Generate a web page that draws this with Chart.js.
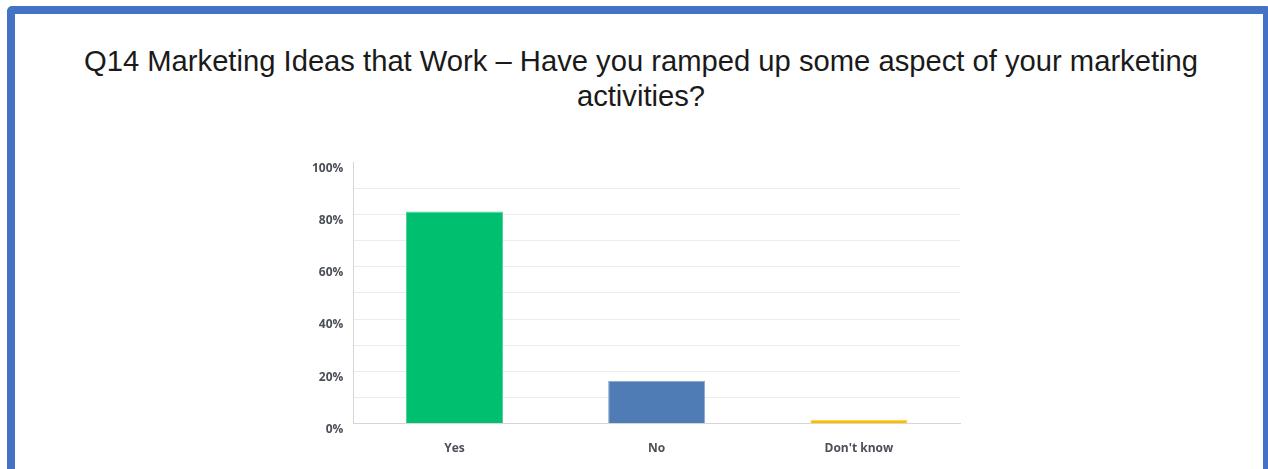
<!DOCTYPE html>
<html>
<head>
<meta charset="utf-8">
<script src="https://cdn.jsdelivr.net/npm/chart.js@4/dist/chart.umd.min.js"></script>
<style>
  html, body { margin: 0; padding: 0; background: #fff; width: 1268px; height: 469px; overflow: hidden; }
  .frame {
    position: absolute; left: 7px; top: 6px; width: 1248px; height: 520px;
    border: 8px solid #4472c4; border-radius: 5px 5px 0 0; background: #fff;
  }
  .title {
    position: absolute; left: 17px; top: 44px; width: 1248px; text-align: center;
    font-family: "Liberation Sans", Arial, sans-serif; font-size: 29.2px; line-height: 35px; color: #1a1a1a;
  }
  .chart-box { position: absolute; left: 280px; top: 145px; width: 700px; height: 324px; }
</style>
</head>
<body>
<div class="frame"></div>
<div class="title">Q14 Marketing Ideas that Work – Have you ramped up some aspect of your marketing<br>activities?</div>
<div class="chart-box"><canvas id="c"></canvas></div>
<script>
const categories = ["Yes", "No", "Don't know"];
const shares = [81.1, 16.4, 1.5];
const barColors = ["#00bf6f", "#507cb6", "#f9be00"];
const barEdges = ["#4fd39b", "#86a5cf", "#fbd34f"];
const tickLabels = { 0: "0%", 20: "20%", 40: "40%", 60: "60%", 80: "80%", 100: "100%" };

const tickFont = { family: "'Open Sans', Inter, sans-serif", size: 12, weight: "bold" };

new Chart(document.getElementById("c"), {
  type: "bar",
  data: {
    labels: categories,
    datasets: [{
      data: shares,
      backgroundColor: barColors,
      borderColor: barEdges,
      borderWidth: 1,
      categoryPercentage: 1,
      barPercentage: 0.48
    }]
  },
  options: {
    responsive: true,
    maintainAspectRatio: false,
    animation: false,
    layout: { padding: { left: 22, right: 20, top: 0, bottom: 3 } },
    plugins: { legend: { display: false }, tooltip: { enabled: false } },
    scales: {
      x: {
        grid: { display: false },
        border: { display: true, color: "#d6d6d6", width: 1 },
        ticks: { color: "#4b4f58", font: tickFont, padding: 10 }
      },
      y: {
        min: 0, max: 100,
        grid: {
          color: ctx => (ctx.tick && ctx.tick.value === 100) ? "rgba(0,0,0,0)" : "#ececec",
          drawTicks: false
        },
        border: { display: true, color: "#d6d6d6", width: 1 },
        ticks: {
          stepSize: 10,
          autoSkip: false,
          color: "#4b4f58",
          font: tickFont,
          padding: 10,
          labelOffset: 6,
          callback: v => tickLabels[v] !== undefined ? tickLabels[v] : ""
        }
      }
    }
  }
});
</script>
</body>
</html>
